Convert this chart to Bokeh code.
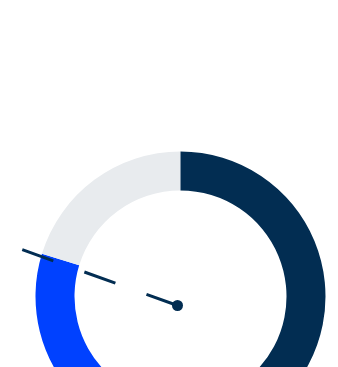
import math
from bokeh.plotting import figure
from bokeh.models import Range1d
from bokeh.embed import file_html
from bokeh.resources import INLINE

# --- data ---
segments = ["Actual", "Remaining", "Rest"]
segment_values = [23, 27, 50]
segment_colors = ["#0041FF", "#E8EBEE", "#022D52"]
needle_value = 24
gauge_max = 100

# gauge geometry (style)
start_deg = 225.0
sweep_deg = 270.0
cx, cy = 180, -296
r_in, r_out = 106, 145
needle_x, needle_y = 177, -305
needle_len = 166

W, H = 338, 367
p = figure(width=W, height=H, output_backend="svg", toolbar_location=None,
           x_range=Range1d(0, W), y_range=Range1d(-H, 0),
           min_border=0, outline_line_color=None)
p.axis.visible = False
p.grid.visible = False
p.background_fill_color = "white"
p.border_fill_color = "white"

def val2ang(v):
    return math.radians(start_deg - sweep_deg * v / gauge_max)

cum = 0
starts, ends = [], []
for v in segment_values:
    a0 = val2ang(cum)
    cum += v
    a1 = val2ang(cum)
    starts.append(a1)
    ends.append(a0)

p.annular_wedge(x=[cx] * 3, y=[cy] * 3, inner_radius=r_in, outer_radius=r_out,
                start_angle=starts, end_angle=ends, fill_color=segment_colors,
                line_color=None)

na = val2ang(needle_value)
p.ray(x=[needle_x], y=[needle_y], length=needle_len, angle=na,
      line_color="#022D52", line_width=3, line_dash="33 33")
p.scatter(x=[needle_x], y=[needle_y], size=11, fill_color="#022D52", line_color=None)

open("out.html", "w").write(file_html(p, INLINE))
